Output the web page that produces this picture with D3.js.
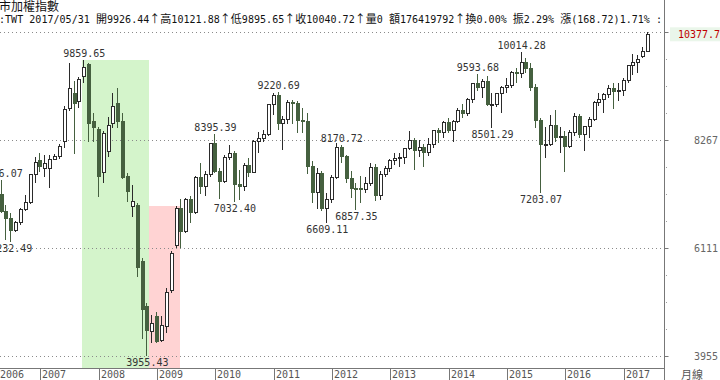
<!DOCTYPE html>
<html><head><meta charset="utf-8">
<script src="https://cdn.jsdelivr.net/npm/d3@7"></script>
<style>body{margin:0;background:#fff;overflow:hidden} svg{display:block}</style>
</head><body>
<svg id="c" width="720" height="380"></svg>
<script>
// ---- data (monthly TAIEX candles) ----
const months = ["2006/05","2006/06","2006/07","2006/08","2006/09","2006/10","2006/11","2006/12",
"2007/01","2007/02","2007/03","2007/04","2007/05","2007/06","2007/07","2007/08","2007/09","2007/10","2007/11","2007/12",
"2008/01","2008/02","2008/03","2008/04","2008/05","2008/06","2008/07","2008/08","2008/09","2008/10","2008/11","2008/12",
"2009/01","2009/02","2009/03","2009/04","2009/05","2009/06","2009/07","2009/08","2009/09","2009/10","2009/11","2009/12",
"2010/01","2010/02","2010/03","2010/04","2010/05","2010/06","2010/07","2010/08","2010/09","2010/10","2010/11","2010/12",
"2011/01","2011/02","2011/03","2011/04","2011/05","2011/06","2011/07","2011/08","2011/09","2011/10","2011/11","2011/12",
"2012/01","2012/02","2012/03","2012/04","2012/05","2012/06","2012/07","2012/08","2012/09","2012/10","2012/11","2012/12",
"2013/01","2013/02","2013/03","2013/04","2013/05","2013/06","2013/07","2013/08","2013/09","2013/10","2013/11","2013/12",
"2014/01","2014/02","2014/03","2014/04","2014/05","2014/06","2014/07","2014/08","2014/09","2014/10","2014/11","2014/12",
"2015/01","2015/02","2015/03","2015/04","2015/05","2015/06","2015/07","2015/08","2015/09","2015/10","2015/11","2015/12",
"2016/01","2016/02","2016/03","2016/04","2016/05","2016/06","2016/07","2016/08","2016/09","2016/10","2016/11","2016/12",
"2017/01","2017/02","2017/03","2017/04","2017/05","2017/06"];
const open = [7171,6846,6704,6455,6611,6884,7021,7567,
7865,7699,7699,7885,7931,8245,8898,9198,9030,9529,9777,8630,
8485,7619,8031,8598,8998,8630,7531,6932,6966,5847,4934,4434,
4734,4269,4534,5268,6150,6890,6432,7078,6826,7509,7340,7582,
8188,7640,7436,7920,8004,7374,7329,7760,7616,8238,8287,8372,
8973,9145,8600,8683,9008,8989,8653,8644,7741,7225,7587,6904,
7072,7517,8121,7933,7501,7301,7296,7270,7397,7715,7166,7580,
7699,7850,7897,7919,8093,8254,8062,8107,8021,8173,8450,8406,
8612,8462,8640,8849,8791,9075,9393,9315,9436,8966,8974,9187,
9307,9361,9622,9586,9820,9701,9323,8665,8174,8181,8554,8320,
8338,8145,8411,8745,8378,8535,8667,9008,9069,9167,9290,9240,
9254,9448,9751,9812,9926.44,10040.72];
const high = [7476.07,6960,6800,6640,6900,7166,7590,7931,
7999,7965,7965,7990,8180,8950,9807,9450,9530,9859.65,9800,8798,
8520,8450,8731,9210,9309,8798,7600,7366,7000,5900,5000,4768,
4834,4750,5300,6050,6950,7083,7100,7150,7550,7800,7650,8200,
8395.39,7700,7960,8165,8050,7665,7800,7900,8270,8430,8460,8990,
9198,9220.69,8750,9060,9060,9050,8900,8800,7850,7700,7650,7200,
7560,8200,8170.72,7960,7650,7400,7550,7520,7800,7780,7650,7750,
7880,8000,8010,8110,8445,8300,8260,8180,8300,8470,8500,8650,
8700,8660,8900,8990,9110,9410,9593.68,9480,9550,9200,9200,9350,
9500,9640,9700,10014.28,9900,9800,9380,8700,8530,8760,8860,8530,
8450,8460,8800,8780,8550,8720,9050,9200,9200,9370,9400,9400,
9500,9760,9990,9970,10121.88,10423.9];
const low = [6800,6265,6232.49,6420,6560,6850,6990,7400,
7631,7531,7312,7860,7880,8100,8850,7987,8900,9400,8231,8231,
7131,7400,7931,8500,8500,7480,7032,6732,5535,4280,3955.43,4203,
4203,4230,4400,5200,6100,6101,6400,6600,6780,7180,7140,7520,
7600,7080,7400,7865,7032.40,7066,7250,7520,7600,8000,8230,8350,
8764,8465,8070,8580,8580,8400,8400,7580,7000,6890,6850,6609.11,
7000,7480,7800,7400,7100,6857.35,7000,7200,7350,7050,7060,7520,
7620,7770,7720,7780,8060,7664,7920,7730,7950,8110,8200,8300,
8400,8230,8600,8700,8750,9000,9250,9100,8950,8501.29,8920,8803,
9200,9300,9400,9500,9600,9250,8500,7203.07,7900,8150,8230,8000,
7627,8100,8350,8300,8053,8300,8650,8950,8800,9100,8880,9050,
9150,9400,9570,9600,9895.65,10030];
const close = [6846,6704,6455,6611,6884,7021,7567,7823,
7731,7799,7885,7930,8131,8884,9298,9000,9484,9709,8598,8510,
7531,8398,8565,8930,8630,7524,7232,7046,5719,4870,4460,4591,
4248,4557,5210,5993,6890,6432,7078,6826,7509,7340,7582,8188,
7640,7436,7920,8004,7374,7329,7760,7616,8238,8287,8372,8973,
9145,8600,8683,9008,8989,8653,8644,7741,7225,7587,6904,7072,
7517,8121,7933,7501,7301,7296,7270,7397,7715,7166,7580,7699,
7850,7897,7919,8093,8254,8062,8107,8021,8173,8450,8406,8612,
8462,8640,8849,8791,9075,9393,9315,9436,8966,8974,9187,9307,
9361,9622,9586,9820,9701,9323,8665,8174,8181,8554,8320,8338,
8145,8411,8745,8378,8535,8667,9008,9069,9167,9290,9240,9254,
9448,9751,9812,9872,10040.72,10377.7];

// marked extremes
const markMonths = ["2006/05","2006/07","2007/10","2008/11","2010/01","2010/05","2011/02","2011/12","2012/03","2012/06","2014/07","2014/10","2015/04","2015/08"];
const markValues = [7476.07,6232.49,9859.65,3955.43,8395.39,7032.40,9220.69,6609.11,8170.72,6857.35,9593.68,8501.29,10014.28,7203.07];
const markSides  = ["high","low","high","low","high","low","high","low","high","low","high","low","high","low"];

// shaded zones
const zoneFrom = ["2007/10","2008/11"];
const zoneTo   = ["2008/11","2009/06"];
const zoneTop  = [9859.65, 6950];
const zoneFill = ["#d4f4cb","#ffd3d3"];

const yearLabels = ["2006","2007","2008","2009","2010","2011","2012","2013","2014","2015","2016","2017"];
const headerTitle = "上市加權指數";
const headerInfo = ":TWT 2017/05/31 開9926.44↑高10121.88↑低9895.65↑收10040.72↑量0 額176419792↑換0.00% 振2.29% 漲(168.72)1.71% :";
const lastPrice = 10377.7;
const periodLabel = "月線";

// ---- drawing ----
const svg = d3.select("#c");
const W = 720, H = 380;
const axisX = 664.5, axisY = 368.5;
const yMin = d3.min(low), yMax = d3.max(high);
const y = d3.scaleLinear().domain([yMin, yMax]).range([355.7, 32]);
const x = d3.scaleLinear().domain([0, months.length - 1]).range([1.6, 648]);
const idx = m => months.indexOf(m);
const step = x(1) - x(0);
const mono = "'DejaVu Sans Mono', 'Liberation Mono', monospace";
const cjk = "'Noto Sans CJK TC', 'Noto Sans CJK SC', sans-serif";

const plot = svg.append("g");
svg.append("defs").append("clipPath").attr("id","pc")
  .append("rect").attr("x",0).attr("y",0).attr("width",axisX).attr("height",axisY);

// zones
plot.selectAll("rect.zone").data(zoneFrom).join("rect")
  .attr("x", (d,i) => i === 0 ? Math.round(x(idx(d)) - 2) : Math.round(x(idx(d)) + 2))
  .attr("width", (d,i) => {
     const a = i === 0 ? x(idx(d)) - 2 : x(idx(d)) + 2;
     const b = i === 0 ? x(idx(zoneTo[i])) + 2 : x(idx(zoneTo[i])) - 1;
     return Math.round(b) - Math.round(a);
  })
  .attr("y", (d,i) => Math.round(y(zoneTop[i])))
  .attr("height", (d,i) => axisY - Math.round(y(zoneTop[i])))
  .attr("fill", (d,i) => zoneFill[i]);

// grid lines
const gridVals = d3.range(4).map(k => yMin + k * (yMax - yMin) / 3);
plot.selectAll("line.grid").data(gridVals).join("line")
  .attr("x1", 0).attr("x2", axisX)
  .attr("y1", d => Math.round(y(d)) + 0.5).attr("y2", d => Math.round(y(d)) + 0.5)
  .attr("stroke", "#8a8a8a").attr("stroke-width", 1).attr("stroke-dasharray", "1,3");

// candles
const cg = svg.append("g").attr("clip-path","url(#pc)").attr("shape-rendering","crispEdges");
const up = "#2b2b2b", down = "#45603f";
const candles = cg.selectAll("g.c").data(months).join("g");
candles.append("line")
  .attr("x1", (d,i) => Math.round(x(i)) - 0.5).attr("x2", (d,i) => Math.round(x(i)) - 0.5)
  .attr("y1", (d,i) => y(high[i])).attr("y2", (d,i) => y(low[i]))
  .attr("stroke", (d,i) => close[i] >= open[i] ? up : down).attr("stroke-width", 1);
candles.append("rect")
  .attr("x", (d,i) => Math.round(x(i)) - 2.5 + 0.5)
  .attr("width", 3)
  .attr("y", (d,i) => y(Math.max(open[i], close[i])))
  .attr("height", (d,i) => Math.max(1, Math.abs(y(open[i]) - y(close[i]))))
  .attr("fill", (d,i) => close[i] >= open[i] ? "#fff" : down)
  .attr("stroke", (d,i) => close[i] >= open[i] ? up : down).attr("stroke-width", 1);

// extreme labels
svg.selectAll("text.mark").data(markMonths).join("text")
  .attr("x", d => x(idx(d)))
  .attr("y", (d,i) => markSides[i] === "high" ? y(markValues[i]) - 3 : y(markValues[i]) + 10)
  .attr("text-anchor", "middle")
  .attr("font-family", mono).attr("font-size", 10).attr("fill", "#333")
  .text((d,i) => markValues[i].toFixed(2));

// axes lines
svg.append("line").attr("x1", axisX).attr("x2", axisX).attr("y1", 0).attr("y2", H)
  .attr("stroke", "#777").attr("stroke-width", 1);
svg.append("line").attr("x1", 0).attr("x2", axisX).attr("y1", axisY).attr("y2", axisY)
  .attr("stroke", "#777").attr("stroke-width", 1);

// right axis ticks and labels
const minorVals = d3.range(13).map(k => yMin + k * (yMax - yMin) / 12).filter((v,k) => k % 4 !== 0);
svg.selectAll("line.mj").data(gridVals).join("line")
  .attr("x1", axisX).attr("x2", axisX + 4)
  .attr("y1", d => Math.round(y(d)) + 0.5).attr("y2", d => Math.round(y(d)) + 0.5)
  .attr("stroke", "#777");
svg.selectAll("rect.mn").data(minorVals).join("rect")
  .attr("x", axisX + 1.5).attr("y", d => Math.round(y(d))).attr("width", 1).attr("height", 1)
  .attr("fill", "#999");
svg.selectAll("text.yl").data(gridVals.slice(0,3)).join("text")
  .attr("x", 694).attr("y", d => y(d) + 4)
  .attr("font-family", mono).attr("font-size", 10).attr("fill", "#666")
  .text(d => Math.floor(d));
svg.append("text").attr("x", 694).attr("y", y(gridVals[3]) + 4)
  .attr("font-family", mono).attr("font-size", 10).attr("fill", "#bbb")
  .text(Math.floor(gridVals[3]));
// last price label
svg.append("rect").attr("x", 670).attr("y", y(lastPrice) - 7).attr("width", 50).attr("height", 14)
  .attr("fill", "#eaf6ea");
svg.append("text").attr("x", 678).attr("y", y(lastPrice) + 4)
  .attr("font-family", mono).attr("font-size", 10).attr("fill", "#c00000")
  .text(lastPrice.toFixed(1));

// year labels
yearLabels.forEach(yr => {
  const i = idx(yr + "/01");
  if (i < 0) {
    svg.append("text").attr("x", 0).attr("y", 378)
      .attr("font-family", mono).attr("font-size", 10).attr("fill", "#555").text(yr);
    return;
  }
  const px = Math.round(x(i)) + 0.5;
  svg.append("line").attr("x1", px).attr("x2", px).attr("y1", 369).attr("y2", 380)
    .attr("stroke", "#777");
  svg.append("text").attr("x", px + 1.5).attr("y", 378)
    .attr("font-family", mono).attr("font-size", 10).attr("fill", "#555").text(yr);
});
svg.append("text").attr("x", 681).attr("y", 379)
  .attr("font-family", cjk).attr("font-size", 11).attr("fill", "#555").text(periodLabel);

// header
svg.append("text").attr("x", -13).attr("y", 11)
  .attr("font-family", cjk).attr("font-size", 12).attr("fill", "#111").text(headerTitle);
const hdr = svg.append("text").attr("x", -1).attr("y", 23).attr("fill", "#111")
  .attr("textLength", 663).attr("lengthAdjust", "spacing");
const runs = [];
for (const ch of headerInfo) {
  const wide = /[\u2190-\u21ff\u3000-\u9fff]/.test(ch);
  if (runs.length && runs[runs.length-1].wide === wide) runs[runs.length-1].t += ch;
  else runs.push({wide, t: ch});
}
runs.forEach(r => hdr.append("tspan")
  .attr("font-family", r.wide ? cjk : mono)
  .attr("font-size", r.wide ? 11 : 10)
  .text(r.t));
</script>
</body></html>
